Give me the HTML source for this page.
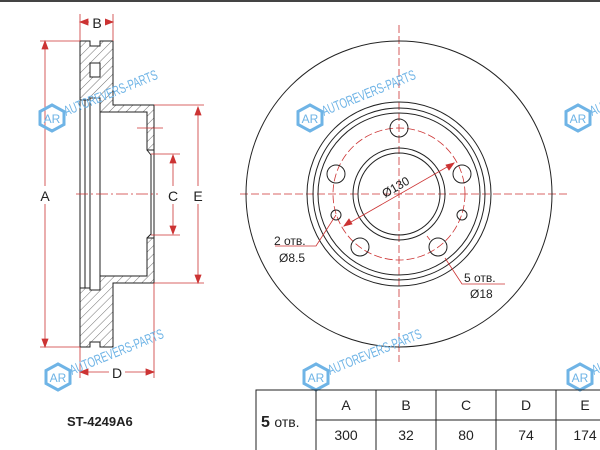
<!DOCTYPE html>
<html><head><meta charset="utf-8"><style>
body{margin:0;background:#fff;width:600px;height:450px;overflow:hidden}
svg{display:block;font-family:"Liberation Sans",sans-serif}
</style></head><body>
<svg width="600" height="450" viewBox="0 0 600 450">
<defs>
<pattern id="h" width="6" height="6" patternUnits="userSpaceOnUse" patternTransform="rotate(45)"><line x1="0" y1="0" x2="0" y2="6" stroke="#333" stroke-width="0.7"/></pattern>
<g id="wm">
<polygon points="0,-13 12,-6.5 12,6.5 0,13 -12,6.5 -12,-6.5" fill="none" stroke="#6fb4e6" stroke-width="3"/>
<text x="0" y="5" font-size="12" fill="#6fb4e6" text-anchor="middle">AR</text>
<text x="14" y="-2" font-size="14" fill="#6fb4e6" transform="rotate(-22 14 -2)" textLength="100" lengthAdjust="spacingAndGlyphs">AUTOREVERS-PARTS</text>
</g>
</defs>
<rect x="0" y="0" width="600" height="2" fill="#444"/>
<!-- left section -->
<g stroke="#222" stroke-width="1" fill="url(#h)">
<polygon points="80,41 90,41 90,46 100,46 100,41 113,41 113,105 154,105 154,150 147,150 147,112 100,112 100,98 90,98 90,100 80,100"/>
<polygon points="80,347 90,347 90,342 100,342 100,347 113,347 113,283 154,283 154,238 147,238 147,276 100,276 100,290 90,290 90,288 80,288"/>
</g>
<g stroke="#222" stroke-width="1" fill="none">
<rect x="90" y="63" width="10" height="14" fill="#fff"/>
<line x1="80" y1="100" x2="80" y2="288"/>
<line x1="85" y1="100" x2="85" y2="288"/>
<line x1="90" y1="98" x2="90" y2="290"/><line x1="100" y1="98" x2="100" y2="290"/>
<polyline points="147,150 151,155 151,234 147,238"/>
<line x1="154" y1="150" x2="154" y2="238"/>
</g>
<g stroke="#c33" stroke-width="0.8" fill="#c33">
<line x1="137" y1="128" x2="163" y2="128"/>
<line x1="76" y1="194" x2="158" y2="194" stroke-dasharray="12,3,2,3" fill="none"/>
<line x1="45" y1="41" x2="45" y2="347"/><line x1="40" y1="41" x2="80" y2="41"/><line x1="40" y1="347" x2="80" y2="347"/>
<polygon points="45,41 42,49 48,49"/><polygon points="45,347 42,339 48,339"/>
<line x1="198" y1="107" x2="198" y2="283"/><line x1="154" y1="105" x2="204" y2="105"/><line x1="154" y1="283" x2="204" y2="283"/>
<polygon points="198,107 195,115 201,115"/><polygon points="198,283 195,275 201,275"/>
<line x1="173" y1="155" x2="173" y2="234"/><line x1="151" y1="154" x2="180" y2="154"/><line x1="151" y1="235" x2="180" y2="235"/>
<polygon points="173,155 170,163 176,163"/><polygon points="173,234 170,226 176,226"/>
<line x1="80" y1="14" x2="80" y2="41"/><line x1="113" y1="14" x2="113" y2="41"/><line x1="80" y1="22" x2="113" y2="22"/>
<polygon points="80,22 88,19 88,25"/><polygon points="113,22 105,19 105,25"/>
<line x1="80" y1="347" x2="80" y2="378"/><line x1="154" y1="283" x2="154" y2="378"/><line x1="80" y1="372" x2="154" y2="372"/>
<polygon points="80,372 88,369 88,375"/><polygon points="154,372 146,369 146,375"/>
</g>
<g font-size="14" fill="#222" text-anchor="middle">
<rect x="37" y="186" width="16" height="18" fill="#fff"/><text x="45" y="201">A</text>
<rect x="89" y="14" width="16" height="16" fill="#fff"/><text x="97" y="28">B</text>
<rect x="165" y="186" width="16" height="18" fill="#fff"/><text x="173" y="201">C</text>
<rect x="190" y="186" width="16" height="18" fill="#fff"/><text x="198" y="201">E</text>
<rect x="109" y="364" width="16" height="16" fill="#fff"/><text x="117" y="378">D</text>
</g>
<!-- right disc -->
<g stroke="#c33" stroke-width="0.8" fill="none" stroke-dasharray="8,3">
<line x1="399" y1="25" x2="399" y2="362"/><line x1="240" y1="194" x2="568" y2="194"/>
<circle cx="399" cy="194" r="66"/>
</g>
<g stroke="#222" stroke-width="1" fill="none">
<circle cx="399" cy="194" r="153"/>
<circle cx="399" cy="194" r="92"/><circle cx="399" cy="194" r="86"/><circle cx="399" cy="194" r="81"/>
<circle cx="399" cy="194" r="46"/><circle cx="399" cy="194" r="41"/>
<circle cx="399" cy="128" r="9"/><circle cx="462" cy="174" r="9"/><circle cx="438" cy="247" r="9"/><circle cx="360" cy="247" r="9"/><circle cx="336" cy="174" r="9"/>
<circle cx="336" cy="215" r="5"/><circle cx="462" cy="215" r="5"/>
</g>
<g stroke="#c33" stroke-width="0.8" fill="#c33">
<line x1="344" y1="226" x2="454" y2="163"/>
<polygon points="454,163 446,165 449,170"/><polygon points="344,226 352,224 349,219"/>
<polyline points="336,215 316,246 275,246" fill="none"/>
<polyline points="445,258 462,284 505,284" fill="none"/>
<line x1="430" y1="240" x2="427" y2="236"/>
</g>
<g font-size="12" fill="#222">
<text x="385" y="198" transform="rotate(-30 385 198)">Ø130</text>
<text x="274" y="245">2 отв.</text><text x="279" y="262">Ø8.5</text>
<text x="464" y="282">5 отв.</text><text x="470" y="298">Ø18</text>
</g>
<use href="#wm" x="52" y="118"/><use href="#wm" x="310" y="118"/><use href="#wm" x="578" y="118"/>
<use href="#wm" x="58" y="377"/><use href="#wm" x="316" y="377"/><use href="#wm" x="580" y="377"/>
<!-- table -->
<g stroke="#222" stroke-width="1" fill="none">
<rect x="256" y="390" width="350" height="70"/>
<line x1="316" y1="390" x2="316" y2="450"/><line x1="376" y1="390" x2="376" y2="450"/><line x1="436" y1="390" x2="436" y2="450"/><line x1="496" y1="390" x2="496" y2="450"/><line x1="556" y1="390" x2="556" y2="450"/>
<line x1="316" y1="420" x2="600" y2="420"/>
</g>
<g font-size="14" fill="#222" text-anchor="middle">
<text x="346" y="410">A</text><text x="406" y="410">B</text><text x="466" y="410">C</text><text x="526" y="410">D</text><text x="585" y="410">E</text>
<text x="346" y="440">300</text><text x="406" y="440">32</text><text x="466" y="440">80</text><text x="526" y="440">74</text><text x="585" y="440">174</text>
</g>
<text x="261" y="427" font-size="16" font-weight="bold" fill="#222">5 <tspan font-size="14" font-weight="normal">отв.</tspan></text>
<text x="67" y="426" font-size="13" font-weight="bold" fill="#222">ST-4249A6</text>
</svg>
</body></html>
